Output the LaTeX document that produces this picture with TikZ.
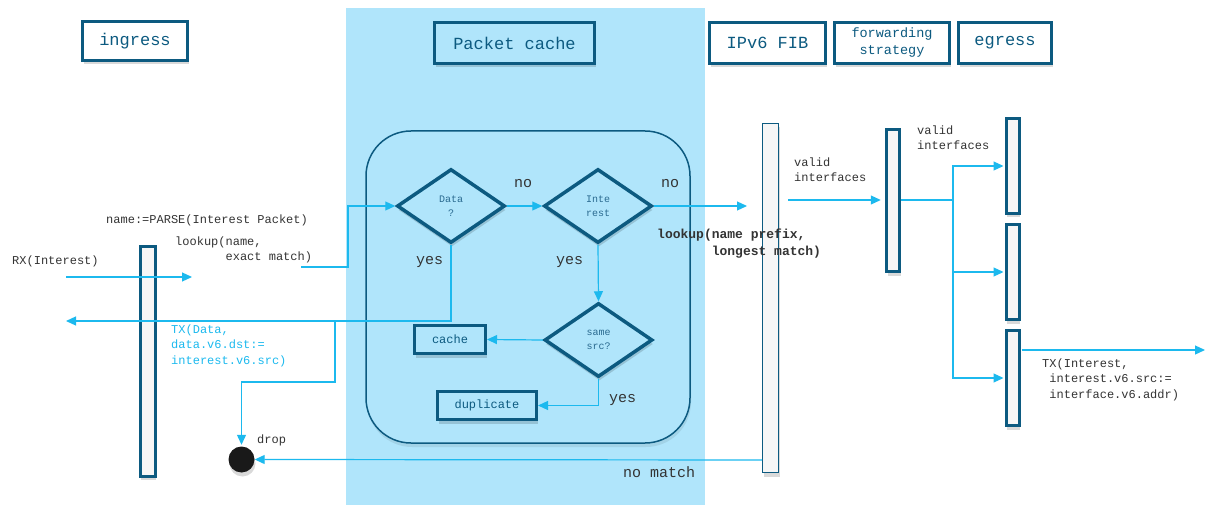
\documentclass[tikz,border=0pt]{standalone}
\usepackage{fontspec}
\setmonofont{Liberation Mono}
\usetikzlibrary{arrows.meta,shapes.geometric,shadows,calc}
\definecolor{bgblue}{HTML}{B0E5FB}
\definecolor{dkblue}{HTML}{0C5A80}
\definecolor{arr}{HTML}{1CB9EE}
\definecolor{txt}{HTML}{333333}
\definecolor{dtxt}{HTML}{2A6A90}
\begin{document}
\begin{tikzpicture}[x=1pt,y=-1pt,
  shad/.style={drop shadow={shadow xshift=1pt,shadow yshift=-4pt,opacity=0.15,fill=black}},
  hdr/.style={draw=dkblue,line width=3pt,fill=white,text=dkblue,inner sep=0,
    font=\fontsize{17}{20}\selectfont\ttfamily,align=center,shad},
  bar/.style={draw=dkblue,fill=gray!7,inner sep=0,line width=3pt,shad},
  dia/.style={diamond,draw=dkblue,fill=bgblue,line width=3.5pt,inner sep=0,aspect=1.45,
    minimum width=108,minimum height=74,text=dtxt,align=center,
    font=\fontsize{10}{14}\selectfont\ttfamily,shad},
  pbox/.style={draw=dkblue,fill=bgblue,line width=3pt,inner sep=0,text=dkblue,
    font=\fontsize{12}{15}\selectfont\ttfamily,shad},
  lbl/.style={text=txt,font=\fontsize{12}{15.5}\selectfont\ttfamily,inner sep=0,align=left,anchor=base west},
  conn/.style={draw=arr,line width=1.2pt,-{Triangle[length=10pt,width=9pt]}},
  plain/.style={draw=arr,line width=1.2pt}
]
\useasboundingbox (0,0) rectangle (1205,505);
% packet cache background
\fill[bgblue] (346,8) rectangle (705,505);

% headers
\node[hdr,minimum width=105,minimum height=39] (hingress) at (135,41) {ingress};
\node[hdr,fill=bgblue,minimum width=160,minimum height=41] (hcache) at (514.5,43) {Packet cache};
\node[hdr,minimum width=116,minimum height=41] (hfib) at (767.5,43) {IPv6 FIB};
\node[hdr,minimum width=115,minimum height=41,font=\fontsize{13.5}{17}\selectfont\ttfamily] (hfwd) at (892,43) {forwarding\\strategy};
\node[hdr,minimum width=93,minimum height=41] (hegress) at (1005,43) {egress};

% cache container
\node[draw=dkblue,fill=bgblue,line width=1.5pt,rounded corners=45,minimum width=324,minimum height=312,inner sep=0,
  drop shadow={shadow xshift=1pt,shadow yshift=-4pt,opacity=0.08,fill=black}] (cont) at (528,287) {};

% bars
\node[bar,minimum width=15,minimum height=229] (ingbar) at (147.5,361.5) {};
\node[bar,line width=1.5pt,minimum width=16,minimum height=349] (fibbar) at (770.5,298) {};
\node[bar,line width=3.5pt,minimum width=13,minimum height=142] (fwdbar) at (893,200.5) {};
\node[bar,minimum width=13,minimum height=95] (eg1) at (1012.5,166) {};
\node[bar,minimum width=13,minimum height=95] (eg2) at (1012.5,272) {};
\node[bar,minimum width=13,minimum height=95] (eg3) at (1012.5,378) {};

% diamonds and boxes
\node[dia] (data) at (451,206) {Data\\?};
\node[dia] (inter) at (598,206) {Inte\\rest};
\node[dia] (same) at (598.5,340) {same\\src?};
\node[pbox,minimum width=71,minimum height=28] (cache) at (450,339.5) {cache};
\node[pbox,minimum width=99,minimum height=28] (dup) at (487,405.5) {duplicate};

% drop
\node[circle,fill=black!90,minimum size=26,inner sep=0,shad] (drop) at (241.5,459.5) {};

% coordinates
\coordinate (rxs) at (66,277);
\coordinate (rxe) at (192,277);
\coordinate (lk) at (301,267);
\coordinate (txd) at (66,321);
\coordinate (br) at (335,321);
\coordinate (fibin) at (747,206);
\coordinate (nm) at (762,460);
\coordinate (vs) at (788,200);
\coordinate (sp) at (953,200);
\coordinate (txo) at (1205,350);

% connectors
\draw[conn] (rxs) -- (rxe);
\draw[conn] (lk) -- (348,267) |- (data.west);
\draw[conn] (data.east) -- (inter.west);
\draw[conn] (inter.east) -- (fibin);
\draw[conn] (inter.south) -- (same.north);
\draw[conn] (same.west) -- (cache.east);
\draw[conn] (same.south) |- (dup.east);
\draw[conn] (data.south) |- (txd);
\draw[conn,shorten >=1.5pt] (br) -- (335,382) -| (drop.north);
\draw[conn] (nm) -- (drop.east);
\draw[conn,shorten >=4pt] (vs) -- (fwdbar.west|-vs);
\draw[plain] (fwdbar.east|-sp) -- (sp);
\draw[conn,shorten >=1pt] (sp) |- (eg1.west);
\draw[conn,shorten >=1pt] (sp) |- (eg2.west);
\draw[conn,shorten >=1pt] (sp) |- (eg3.west);
\draw[conn] ($(eg3.east)+(1,-28)$) -- (txo);

% labels (base = baseline of the last line)
\node[lbl] (lrx) at (12,265) {RX(Interest)};
\node[lbl] (lparse) at (106,224) {name:=PARSE(Interest Packet)};
\node[lbl] (llk) at (175,261) {lookup(name,\\\phantom{1234567}exact match)};
\node[lbl,text=arr] (ltxd) at (171,364) {TX(Data,\\data.v6.dst:=\\interest.v6.src)};
\node[lbl] (ldrop) at (257,443) {drop};
\node[lbl,font=\fontsize{15}{18}\selectfont\ttfamily] (lyes1) at (416,265) {yes};
\node[lbl,font=\fontsize{15}{18}\selectfont\ttfamily] (lno1) at (514,188) {no};
\node[lbl,font=\fontsize{15}{18}\selectfont\ttfamily] (lyes2) at (556,265) {yes};
\node[lbl,font=\fontsize{15}{18}\selectfont\ttfamily] (lno2) at (661,188) {no};
\node[lbl,font=\fontsize{15}{18}\selectfont\ttfamily] (lyes3) at (609,402) {yes};
\node[lbl,font=\fontsize{15}{18}\selectfont\ttfamily] (lnm) at (623,477) {no match};
\node[lbl,font=\fontsize{13}{17}\selectfont\ttfamily\bfseries] (llpm) at (657,255) {lookup(name prefix,\\\phantom{1234567}longest match)};
\node[lbl] (lvi1) at (794,182) {valid\\interfaces};
\node[lbl] (lvi2) at (917,150) {valid\\interfaces};
\node[lbl] (ltxi) at (1042,398) {TX(Interest,\\\phantom{1}interest.v6.src:=\\\phantom{1}interface.v6.addr)};
\end{tikzpicture}
\end{document}
